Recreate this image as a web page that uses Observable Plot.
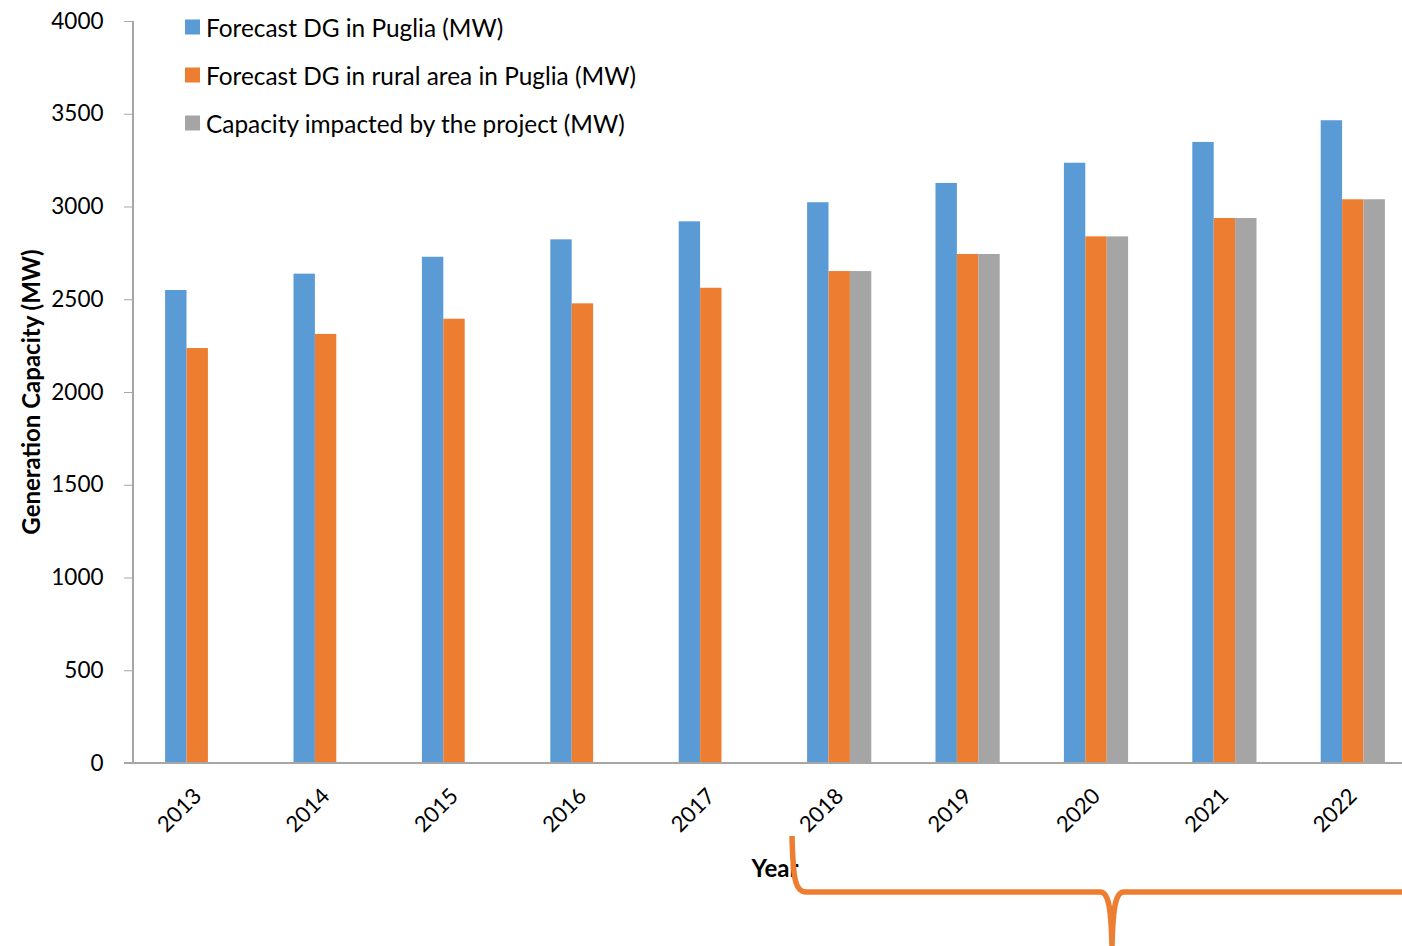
<!DOCTYPE html>
<html><head><meta charset="utf-8">
<script src="https://cdn.jsdelivr.net/npm/d3@7"></script>
<script src="https://cdn.jsdelivr.net/npm/@observablehq/plot@0.6"></script>
<style>
html,body{margin:0;padding:0;background:#fff;overflow:hidden;width:1402px;height:946px;}
#chart{position:relative;width:1402px;height:946px;overflow:hidden;}
</style></head><body><div id="chart"></div>
<script>
// ---- data ----
const years = ["2013","2014","2015","2016","2017","2018","2019","2020","2021","2022"];
const seriesNames = [
  "Forecast DG in Puglia (MW)",
  "Forecast DG in rural area in Puglia (MW)",
  "Capacity impacted by the project (MW)"
];
const forecastPuglia = [2550, 2638, 2729, 2823, 2920, 3023, 3127, 3236, 3348, 3465];
const forecastRural  = [2237, 2313, 2395, 2478, 2562, 2652, 2744, 2839, 2938, 3039];
const impacted       = [null, null, null, null, null, 2652, 2744, 2839, 2938, 3039];
const yTicks = [0, 500, 1000, 1500, 2000, 2500, 3000, 3500, 4000];
const colors = ["#5B9BD5", "#ED7D31", "#A5A5A5"];
const yTitle = "Generation Capacity (MW)";
const xTitle = "Year";

const table = [];
years.forEach((yr, i) => {
  [forecastPuglia, forecastRural, impacted].forEach((arr, j) => {
    if (arr[i] != null) table.push({year: yr, series: seriesNames[j], value: arr[i]});
  });
});

const FONT = "Lato";
const chart = Plot.plot({
  width: 1417, height: 946,
  marginLeft: 133, marginRight: 0, marginTop: 21, marginBottom: 183,
  style: {fontFamily: FONT, maxWidth: "none", overflow: "visible", background: "white", color: "#000"},
  fx: {domain: years, padding: 0, round: false},
  x: {domain: seriesNames, paddingInner: 0, paddingOuter: 1.5, align: 0.5, round: false, axis: null},
  y: {domain: [0, 4000]},
  color: {domain: seriesNames, range: colors},
  marks: [
    Plot.barY(table, {fx: "year", x: "series", y: "value", fill: "series"}),
    Plot.axisY({ticks: yTicks, tickSize: 9, tickPadding: 21, stroke: "#A6A6A6", fill: "#000",
      fontSize: 22.5, label: null, tickFormat: d => String(d)}),
    Plot.axisFx({anchor: "bottom", tickRotate: -45, tickSize: 0, tickPadding: 29,
      fontSize: 22, fill: "#000", label: null})
  ]
});
document.getElementById("chart").appendChild(chart);

// ---- decorations using the chart's scales ----
const svg = d3.select(chart);
const y = chart.scale("y");
const fx = chart.scale("fx");
const x0 = fx.apply(years[0]);
const g = svg.append("g").attr("text-anchor", "start");
g.append("line").attr("x1", x0).attr("x2", x0).attr("y1", y.apply(4000)).attr("y2", y.apply(0))
  .attr("stroke", "#A6A6A6").attr("stroke-width", 2);
g.append("line").attr("x1", x0 - 9).attr("x2", 1417).attr("y1", y.apply(0)).attr("y2", y.apply(0))
  .attr("stroke", "#A6A6A6").attr("stroke-width", 2);

// axis titles
g.append("text").attr("transform", `translate(30,${(y.apply(0) + y.apply(4000)) / 2}) rotate(-90)`)
  .attr("text-anchor", "middle").attr("dominant-baseline", "central")
  .attr("font-family", FONT).attr("font-weight", "bold").attr("font-size", 24).attr("fill", "#000")
  .text(yTitle);
g.append("text").attr("x", 775).attr("y", 867)
  .attr("text-anchor", "middle").attr("dominant-baseline", "central")
  .attr("font-family", FONT).attr("font-weight", "bold").attr("font-size", 24).attr("fill", "#000")
  .text(xTitle);

// legend
const color = chart.scale("color");
seriesNames.forEach((s, i) => {
  const cy = 27 + i * 48;
  g.append("rect").attr("x", 185).attr("y", cy - 7.5).attr("width", 15).attr("height", 15)
    .attr("fill", color.apply(s));
  g.append("text").attr("x", 206).attr("y", cy).attr("text-anchor", "start")
    .attr("dominant-baseline", "central")
    .attr("font-family", FONT).attr("font-size", 24.4).attr("fill", "#000").text(s);
});

// orange brace annotation
g.append("path")
  .attr("d", "M792,836 C793,878 795,892 806,892 L1100,892 C1108,892 1111,905 1112,946 M1112,946 C1113,905 1116,892 1124,892 L1417,892")
  .attr("fill", "none").attr("stroke", "#ED7D31").attr("stroke-width", 5.5);
</script></body></html>
